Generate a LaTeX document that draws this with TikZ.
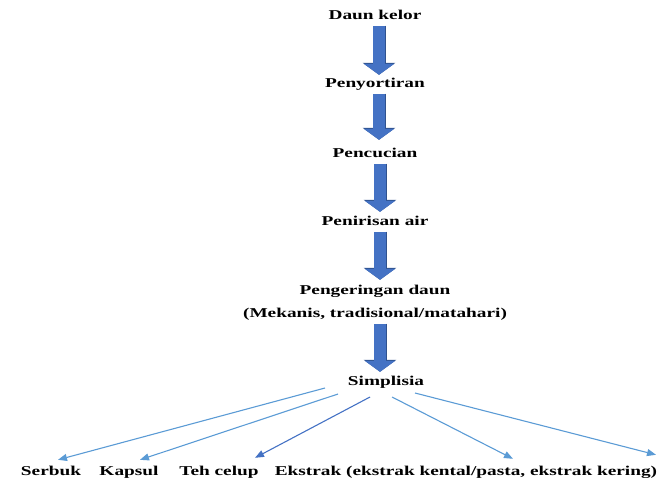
\documentclass[tikz,border=0pt]{standalone}
\usepackage{fontspec}
\newfontfamily\flowfont[FakeStretch=1.43]{Liberation Serif}
\usetikzlibrary{arrows.meta}
\definecolor{blockblue}{HTML}{4472C4}
\definecolor{edgeblue}{HTML}{2F528F}
\definecolor{lineblue}{HTML}{5B9BD5}
\tikzset{step text/.style={inner sep=0pt, anchor=base, text height=10pt, text depth=3pt,
    font=\flowfont\bfseries\fontsize{13.5}{16}\selectfont},
  block arrow/.style={draw=blockblue, line width=11.5pt, shorten <=4pt,
    -{Triangle[width=30pt,length=11pt]},
    preaction={draw=edgeblue, line width=13pt, shorten <=3.3pt, -{Triangle[width=32pt,length=12pt]}}},
  thin arrow/.style={draw=lineblue, line width=1.1pt, -{Triangle[width=7pt,length=9pt]}}}

\begin{document}
\begin{tikzpicture}[x=1pt, y=-1pt]
    \useasboundingbox (0,0) rectangle (660,479);

    \node[step text] (daun) at (375,19) {Daun kelor};
    \node[step text] (sortir) at (375,87) {Penyortiran};
    \node[step text] (cuci) at (375,157) {Pencucian};
    \node[step text] (tiris) at (375,225) {Penirisan air};
    \node[step text] (kering) at (375,294) {Pengeringan daun};
    \node[step text] (keringsub) at (375,317) {(Mekanis, tradisional/matahari)};
    \node[step text] (simplisia) at (386,385) {Simplisia};

    \node[step text] (serbuk) at (51,475) {Serbuk};
    \node[step text] (kapsul) at (129,475) {Kapsul};
    \node[step text] (teh) at (219,475) {Teh celup};
    \node[step text] (ekstrak) at (466,475) {Ekstrak (ekstrak kental/pasta, ekstrak kering)};

    \draw[block arrow] ([xshift=4pt]daun.south) -- ([xshift=4pt,yshift=2pt]sortir.north);
    \draw[block arrow] ([xshift=4pt]sortir.south) -- ([xshift=4pt,yshift=7pt]cuci.north);
    \draw[block arrow] ([xshift=5pt]cuci.south) -- ([xshift=5pt,yshift=3pt]tiris.north);
    \draw[block arrow] ([xshift=5pt]tiris.south) -- ([xshift=5pt,yshift=4pt]kering.north);
    \draw[block arrow] ([xshift=5pt]keringsub.south) -- ([xshift=-6pt,yshift=3pt]simplisia.north);

    \draw[thin arrow] ([xshift=-61pt,yshift=-3pt]simplisia.base) -- ([xshift=7pt,yshift=5pt]serbuk.north);
    \draw[thin arrow] ([xshift=-48pt,yshift=-9pt]simplisia.base) -- ([xshift=11pt,yshift=5pt]kapsul.north);
    \draw[thin arrow, draw=blockblue] ([xshift=-16pt,yshift=-12pt]simplisia.base) -- ([xshift=36pt,yshift=7pt]teh.north);
    \draw[thin arrow] ([xshift=6pt,yshift=-12pt]simplisia.base) -- ([xshift=47pt,yshift=6pt]ekstrak.north);
    \draw[thin arrow] ([xshift=29pt,yshift=-8pt]simplisia.base) -- ([xshift=190pt,yshift=10pt]ekstrak.north);
\end{tikzpicture}
\end{document}
